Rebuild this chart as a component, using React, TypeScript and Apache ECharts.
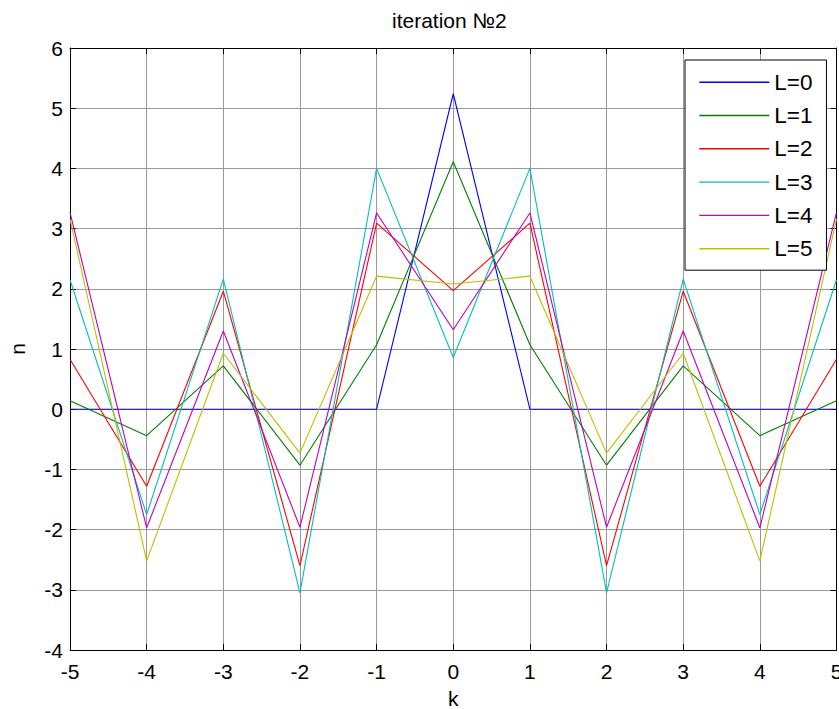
import React, { useEffect, useRef } from "react";
import * as echarts from "echarts";

const kValues = [-5, -4, -3, -2, -1, 0, 1, 2, 3, 4, 5];
const seriesNames = ["L=0", "L=1", "L=2", "L=3", "L=4", "L=5"];
const L0 = [0, 0, 0, 0, 0, 5.24, 0, 0, 0, 0, 0];
const L1 = [0.14, -0.44, 0.72, -0.93, 1.07, 4.11, 1.07, -0.93, 0.72, -0.44, 0.14];
const L2 = [0.83, -1.28, 1.96, -2.6, 3.09, 1.97, 3.09, -2.6, 1.96, -1.28, 0.83];
const L3 = [2.15, -1.75, 2.16, -3.05, 4.0, 0.86, 4.0, -3.05, 2.16, -1.75, 2.15];
const L4 = [3.27, -1.97, 1.3, -1.96, 3.26, 1.32, 3.26, -1.96, 1.3, -1.97, 3.27];
const L5 = [3.16, -2.52, 0.93, -0.73, 2.21, 2.08, 2.21, -0.73, 0.93, -2.52, 3.16];
const seriesValues = [L0, L1, L2, L3, L4, L5];
const colors = ["#0000ff", "#008000", "#ff0000", "#00bfbf", "#bf00bf", "#bfbf00"];

const FONT = "'Liberation Sans', Arial, Helvetica, sans-serif";

export default function App() {
  const ref = useRef<HTMLDivElement>(null);
  useEffect(() => {
    if (!ref.current) return;
    const chart = echarts.init(ref.current, undefined, { renderer: "svg" });
    const axisCommon = {
      min: -5,
      max: 5,
      interval: 1,
    };
    chart.setOption({
      animation: false,
      backgroundColor: "#ffffff",
      textStyle: { fontFamily: FONT },
      title: {
        text: "iteration №2",
        left: 387,
        top: 5,
        textStyle: { fontFamily: FONT, fontSize: 21, fontWeight: "normal", color: "#000" },
      },
      grid: {
        left: 70,
        top: 48,
        right: 2.5,
        bottom: 59,
        containLabel: false,
        outerBoundsMode: "none",
      },
      legend: {
        orient: "vertical",
        left: 685,
        top: 60,
        data: seriesNames.map((name) => ({ name, icon: "rect" })),
        itemWidth: 70,
        itemHeight: 1.4,
        itemGap: 10.3,
        padding: [10.7, 14, 10, 14.3],
        backgroundColor: "#ffffff",
        borderColor: "#000000",
        borderWidth: 1,
        borderRadius: 0,
        textStyle: { fontFamily: FONT, fontSize: 22.5, color: "#000" },
        z: 10,
      },
      xAxis: [
        {
          type: "value",
          ...axisCommon,
          name: "k",
          nameLocation: "middle",
          nameGap: 38,
          nameTextStyle: { fontFamily: FONT, fontSize: 21, color: "#000" },
          axisLine: { show: true, onZero: false, lineStyle: { color: "#000", width: 1 } },
          axisTick: { show: true, inside: true, length: 6, lineStyle: { color: "#000" } },
          axisLabel: { margin: 11, fontFamily: FONT, fontSize: 21, color: "#000" },
          splitLine: { show: true, lineStyle: { color: "#999999", width: 1 } },
        },
        {
          type: "value",
          ...axisCommon,
          position: "top",
          axisLine: { show: true, onZero: false, lineStyle: { color: "#000", width: 1 } },
          axisTick: { show: true, inside: true, length: 6, lineStyle: { color: "#000" } },
          axisLabel: { show: false },
          splitLine: { show: false },
        },
      ],
      yAxis: [
        {
          type: "value",
          min: -4,
          max: 6,
          interval: 1,
          name: "n",
          nameLocation: "middle",
          nameGap: 42,
          nameTextStyle: { fontFamily: FONT, fontSize: 21, color: "#000" },
          axisLine: { show: true, onZero: false, lineStyle: { color: "#000", width: 1 } },
          axisTick: { show: true, inside: true, length: 6, lineStyle: { color: "#000" } },
          axisLabel: { margin: 7, fontFamily: FONT, fontSize: 21, color: "#000" },
          splitLine: { show: true, lineStyle: { color: "#999999", width: 1 } },
        },
        {
          type: "value",
          min: -4,
          max: 6,
          interval: 1,
          position: "right",
          axisLine: { show: true, onZero: false, lineStyle: { color: "#000", width: 1 } },
          axisTick: { show: true, inside: true, length: 6, lineStyle: { color: "#000" } },
          axisLabel: { show: false },
          splitLine: { show: false },
        },
      ],
      series: seriesNames.map((name, i) => ({
        name,
        type: "line",
        xAxisIndex: 0,
        yAxisIndex: 0,
        symbol: "none",
        showSymbol: false,
        color: colors[i],
        lineStyle: { color: colors[i], width: 1.1 },
        data: kValues.map((k, j) => [k, seriesValues[i][j]]),
      })),
    });
    return () => chart.dispose();
  }, []);
  return (
    <div
      ref={ref}
      style={{ position: "fixed", left: 0, top: 0, width: 839, height: 709, background: "#fff" }}
    />
  );
}
